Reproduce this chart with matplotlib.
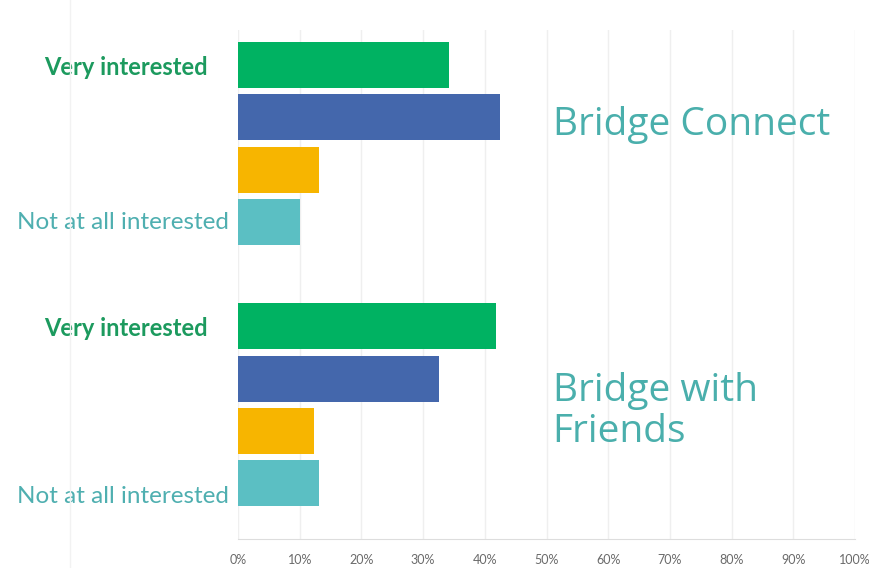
import matplotlib
matplotlib.use("Agg")
import matplotlib.pyplot as plt

# Data (percent of respondents)
groups = ["Bridge Connect", "Bridge with\nFriends"]
levels = ["Very interested", "Somewhat interested", "Not very interested", "Not at all interested"]
bridge_connect = [34.2, 42.5, 13.1, 10.0]
bridge_friends = [41.8, 32.6, 12.3, 13.1]
ticks = [0, 10, 20, 30, 40, 50, 60, 70, 80, 90, 100]
tick_labels = ["0%", "10%", "20%", "30%", "40%", "50%", "60%", "70%", "80%", "90%", "100%"]

colors = ["#00B262", "#4467AC", "#F7B500", "#5BBFC3"]

fig = plt.figure(figsize=(8.7, 5.68), dpi=100)
ax = fig.add_axes([238/870, 1-539/568, (855-238)/870, (539-30)/568])

all_vals = [bridge_connect, bridge_friends]
for g, vals in enumerate(all_vals):
    base = g * 5
    for i, v in enumerate(vals):
        ax.barh(base + i, v, height=0.88, color=colors[i], zorder=3)

ax.set_xlim(0, 100)
ax.set_ylim(9.07, -0.67)
ax.set_xticks(ticks)
ax.set_xticklabels(tick_labels, fontsize=9, color="#6a6a6a", family="Lato")
ax.set_yticks([])
ax.tick_params(axis="x", length=0, pad=11)
ax.grid(axis="x", color="#efefef", linewidth=1, zorder=0)
for s in ["top", "left", "right"]:
    ax.spines[s].set_visible(False)
ax.spines["bottom"].set_color("#dddddd")

# category labels on first and last bar of each group
for g in range(2):
    base = g * 5
    ax.text(-4.9, base + 0.05, levels[0], ha="right", va="center", fontsize=17,
            color="#1C9A5E", family="Lato", fontweight="bold", clip_on=False)
    ax.text(-1.4, base + 3 + (0.02 if g == 0 else 0.25), levels[3], ha="right", va="center",
            fontsize=17.5, color="#4FAFB0", family="Lato", clip_on=False)

# group titles
ax.text(51.0, 1.15, groups[0], ha="left", va="center", fontsize=28,
        color="#4AAFAC", family="Open Sans")
ax.text(51.0, 6.63, groups[1], ha="left", va="center", fontsize=28,
        color="#4AAFAC", family="Open Sans", linespacing=1.1)

# faint slide line on the left
fig.add_artist(plt.Line2D([70/870, 70/870], [0, 1], color="#f2f2f2", linewidth=1))

fig.savefig("out.png", dpi=100, facecolor="white")
